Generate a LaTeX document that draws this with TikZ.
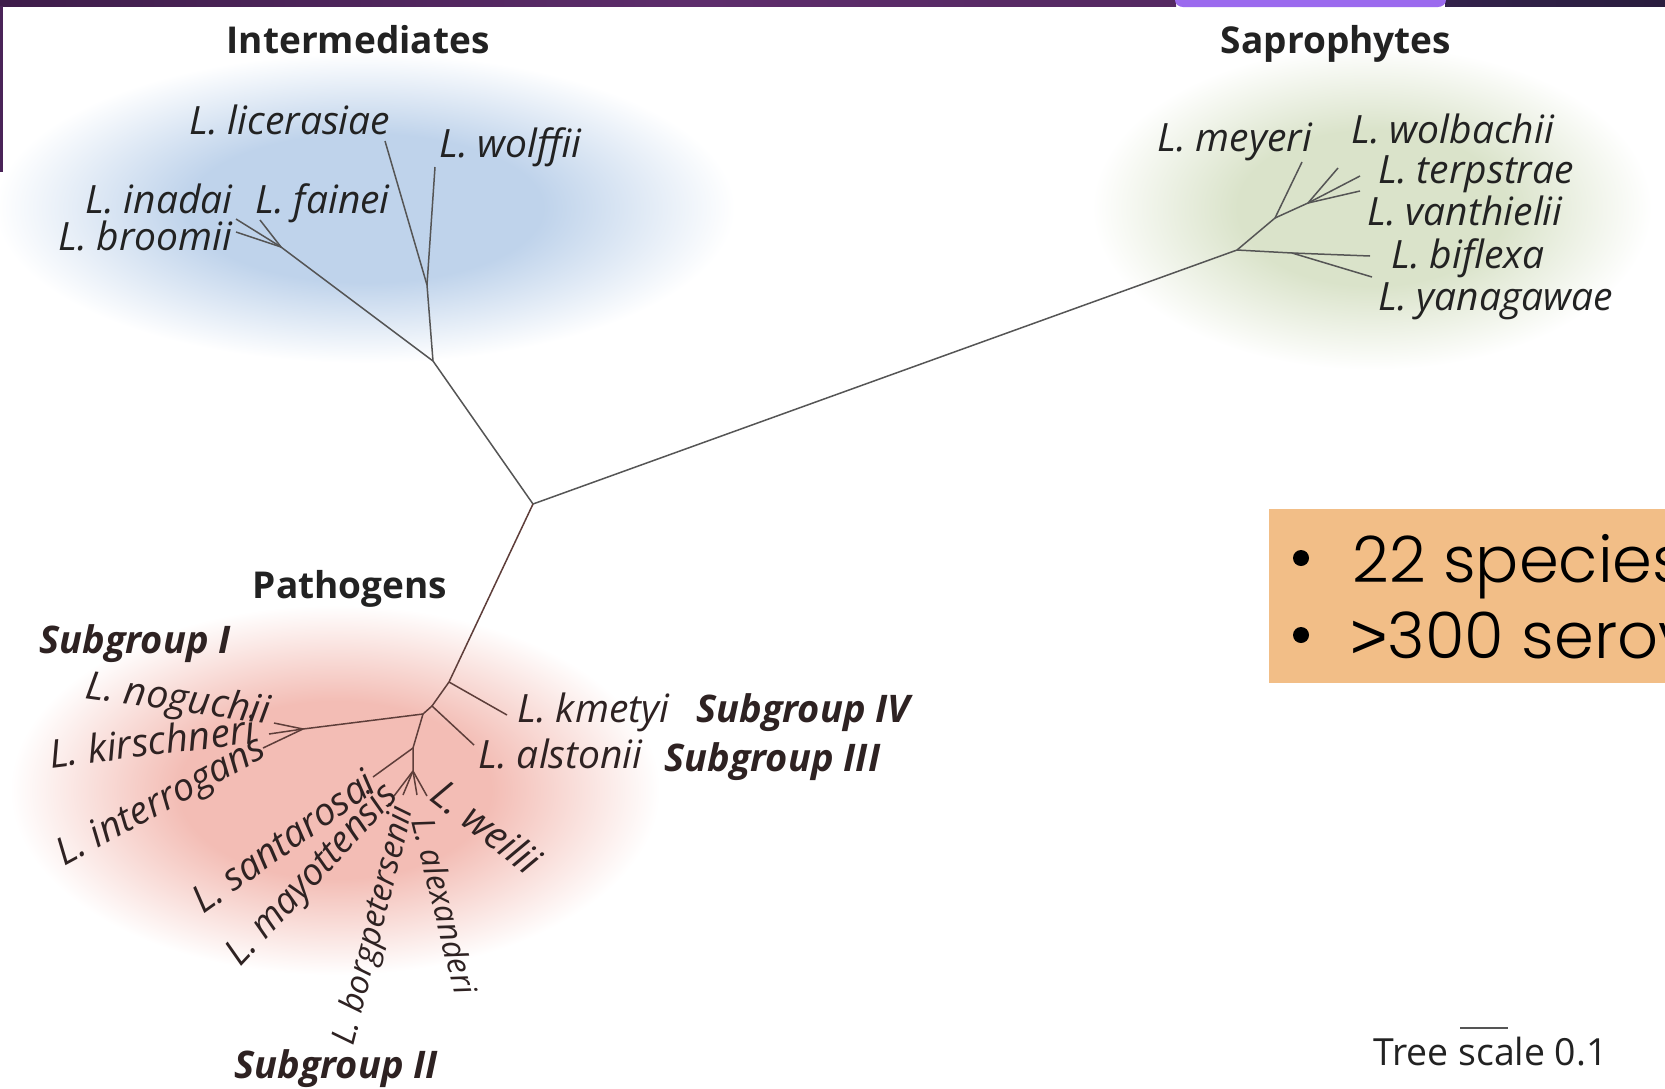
\documentclass[tikz,border=0pt]{standalone}
\usepackage{fontspec}
\setmainfont{Open Sans}
\newfontfamily\boxfont{Poppins}[UprightFont=* Light]
\newfontfamily\gtfont{Liberation Sans}
\definecolor{bluec}{HTML}{BFD3EB}
\definecolor{greenc}{HTML}{DAE3CA}
\definecolor{redc}{HTML}{F3BDB5}
\definecolor{treeg}{HTML}{555555}
\definecolor{treep}{HTML}{5E3E3A}
\definecolor{txtc}{HTML}{222222}
\definecolor{txtp}{HTML}{2E2222}
\definecolor{boxc}{HTML}{F2BE87}
\definecolor{tabc}{HTML}{9B6AEE}
\definecolor{barA}{HTML}{3E1D4A}
\definecolor{barB}{HTML}{5E2D6C}
\definecolor{barC}{HTML}{33224B}
\definecolor{barD}{HTML}{2A1D3E}
\definecolor{sidec}{HTML}{4A2358}
\pgfdeclareradialshading{blobblue}{\pgfpoint{0bp}{0bp}}{color(0bp)=(bluec); color(12bp)=(bluec); color(25bp)=(white); color(50bp)=(white)}
\pgfdeclareradialshading{blobgreen}{\pgfpoint{0bp}{0bp}}{color(0bp)=(greenc); color(12bp)=(greenc); color(25bp)=(white); color(50bp)=(white)}
\pgfdeclareradialshading{blobred}{\pgfpoint{0bp}{0bp}}{color(0bp)=(redc); color(12bp)=(redc); color(25bp)=(white); color(50bp)=(white)}
\begin{document}
\begin{tikzpicture}[x=0.5pt,y=-0.5pt,
  sp/.style={font=\fontsize{19.5}{19.5}\selectfont\itshape, inner sep=0pt, text=txtc},
  spz/.style={font=\fontsize{#1}{#1}\selectfont\itshape, inner sep=0pt, text=txtp},
  spp/.style={sp, text=txtp},
  head/.style={font=\fontsize{18.5}{18.5}\selectfont\bfseries, inner sep=0pt, text=txtc},
  subg/.style={font=\fontsize{19}{19}\selectfont\bfseries\itshape, inner sep=0pt, text=txtp},
  branch/.style={draw=treeg, line width=0.75pt},
  pbranch/.style={draw=treep, line width=0.75pt},
  boxtxt/.style={font=\boxfont\fontsize{32}{32}\selectfont, inner sep=0pt, text=black}]
\useasboundingbox (0,0) rectangle (1665,1088);
\fill[white] (0,0) rectangle (1665,1088);
% background blobs
\shade[shading=blobblue] (365,208) ellipse [x radius=370, y radius=155];
\shade[shading=blobgreen] (1372,208) ellipse [x radius=280, y radius=162];
\shade[shading=blobred] (335,790) ellipse [x radius=325, y radius=185];
% top bar
\shade[left color=barA, right color=barB] (0,0) rectangle (700,6);
\shade[left color=barB, right color=barB!90!black] (700,0) rectangle (1176,6);
\shade[left color=barC, right color=barD] (1445,0) rectangle (1665,6);
\fill[tabc] (1175,0) arc[start angle=180, end angle=270, x radius=8, y radius=-7] -- (1438,7) arc[start angle=270, end angle=360, x radius=8, y radius=-7] -- cycle;
\fill[sidec] (0,6) rectangle (3,172);
% ---------- tree coordinates
\coordinate (R) at (533,504);
\coordinate (I) at (433,361);
\coordinate (Iu) at (427,285);
\coordinate (eLic) at (385,141);
\coordinate (eWol) at (435,167);
\coordinate (Il) at (281,247);
\coordinate (eIna) at (236,219);
\coordinate (eBro) at (236,232);
\coordinate (eFai) at (260,220);
\coordinate (S) at (1237,250);
\coordinate (S2) at (1275,218);
\coordinate (eMey) at (1302,162);
\coordinate (S3) at (1308,203);
\coordinate (eWolb) at (1338,168);
\coordinate (eTer) at (1360,176);
\coordinate (eVan) at (1360,191);
\coordinate (Sb) at (1292,253);
\coordinate (eBif) at (1370,256);
\coordinate (eYan) at (1372,277);
\coordinate (P1) at (449,682);
\coordinate (eKme) at (507,715);
\coordinate (P2) at (432,706);
\coordinate (eAls) at (474,745);
\coordinate (P3) at (423,714);
\coordinate (G1) at (303,729);
\coordinate (eNog) at (274,723);
\coordinate (eKir) at (269,734);
\coordinate (eInt) at (263,748);
\coordinate (P4) at (413,748);
\coordinate (eSan) at (373,777);
\coordinate (P5) at (413,771);
\coordinate (eMay) at (394,796);
\coordinate (eBor) at (403,795);
\coordinate (eAle) at (417,795);
\coordinate (eWei) at (427,796);
% ---------- branches
\draw[branch] (R) -- (I);
\draw[branch] (R) -- (S);
\draw[pbranch] (R) -- (P1);
\draw[branch] (I) -- (Iu) -- (eLic);
\draw[branch] (Iu) -- (eWol);
\draw[branch] (I) -- (Il) -- (eIna);
\draw[branch] (Il) -- (eBro);
\draw[branch] (Il) -- (eFai);
\draw[branch] (S) -- (S2) -- (eMey);
\draw[branch] (S2) -- (S3) -- (eWolb);
\draw[branch] (S3) -- (eTer);
\draw[branch] (S3) -- (eVan);
\draw[branch] (S) -- (Sb) -- (eBif);
\draw[branch] (Sb) -- (eYan);
\draw[pbranch] (P1) -- (eKme);
\draw[pbranch] (P1) -- (P2) -- (eAls);
\draw[pbranch] (P2) -- (P3) -- (G1) -- (eNog);
\draw[pbranch] (G1) -- (eKir);
\draw[pbranch] (G1) -- (eInt);
\draw[pbranch] (P3) -- (P4) -- (eSan);
\draw[pbranch] (P4) -- (P5) -- (eMay);
\draw[pbranch] (P5) -- (eBor);
\draw[pbranch] (P5) -- (eAle);
\draw[pbranch] (P5) -- (eWei);
% ---------- group headings
\node[head, anchor=base] (hInt) at (358,53) {Intermediates};
\node[head, anchor=base] (hSap) at (1336,53) {Saprophytes};
\node[head, anchor=base] (hPat) at (350,598) {Pathogens};
% ---------- intermediates labels
\node[sp, anchor=base west] (lLic) at (189,134) {L. licerasiae};
\node[sp, anchor=base west] (lWol) at (439,157) {L. wolffii};
\node[sp, anchor=base west] (lIna) at (85,213) {L. inadai};
\node[sp, anchor=base west] (lFai) at (255,213) {L. fainei};
\node[sp, anchor=base west] (lBro) at (58,250) {L. broomii};
% ---------- saprophyte labels
\node[sp, anchor=base west] (lMey) at (1157,151) {L. meyeri};
\node[sp, anchor=base west] (lWolb) at (1351,143) {L. wolbachii};
\node[sp, anchor=base west] (lTer) at (1378,183) {L. terpstrae};
\node[sp, anchor=base west] (lVan) at (1367,225) {L. vanthielii};
\node[sp, anchor=base west] (lBif) at (1391,268) {L. biflexa};
\node[sp, anchor=base west] (lYan) at (1378,310) {L. yanagawae};
% ---------- pathogen labels
\node[subg, anchor=base west] (sg1) at (39,653) {Subgroup I};
\node[spz=19.5, rotate=-8] (lNog) at (178,701) {L. noguchii};
\node[spz=19.5, rotate=7] (lKir) at (152,741) {L. kirschneri};
\node[spz=19, rotate=28.5] (lInt) at (162,803) {L. interrogans};
\node[spp, anchor=base west] (lKme) at (517,722) {L. kmetyi};
\node[subg, anchor=base west] (sg4) at (696,722) {Subgroup IV};
\node[spp, anchor=base west] (lAls) at (478,768) {L. alstonii};
\node[subg, anchor=base west] (sg3) at (664,771) {Subgroup III};
\node[spz=19, rotate=35.5] (lSan) at (283,841) {L. santarosai};
\node[spz=18.5, rotate=47] (lMay) at (313,876) {L. mayottensis};
\node[spz=16.6, rotate=76] (lBor) at (375,926) {L. borgpetersenii};
\node[spz=16, rotate=-76] (lAle) at (445,906) {L. alexanderi};
\node[spz=19.5, rotate=-38] (lWei) at (487,827) {L. weilii};
\node[subg, anchor=base west] (sg2) at (234,1078) {Subgroup II};
% ---------- info box
\fill[boxc] (1269,509) rectangle (1665,683);
\fill[black] (1301,558) circle [radius=8];
\fill[black] (1301,635) circle [radius=8];
\begin{scope}
\clip (1269,509) rectangle (1665,683);
\node[boxtxt, anchor=base west] (b1) at (1352,582) {22 species};
\node[boxtxt, anchor=base west] (b2) at (1350,658) {{\gtfont >}300 serov};
\end{scope}
% ---------- tree scale
\coordinate (sbA) at (1460,1028);
\coordinate (sbB) at (1508,1028);
\draw[draw=treeg, line width=0.9pt] (sbA) -- (sbB);
\node[font=\fontsize{18.7}{18.7}\selectfont, inner sep=0pt, text=txtc, anchor=base west] (ts) at (1373,1065) {Tree scale 0.1};
\end{tikzpicture}
\end{document}
